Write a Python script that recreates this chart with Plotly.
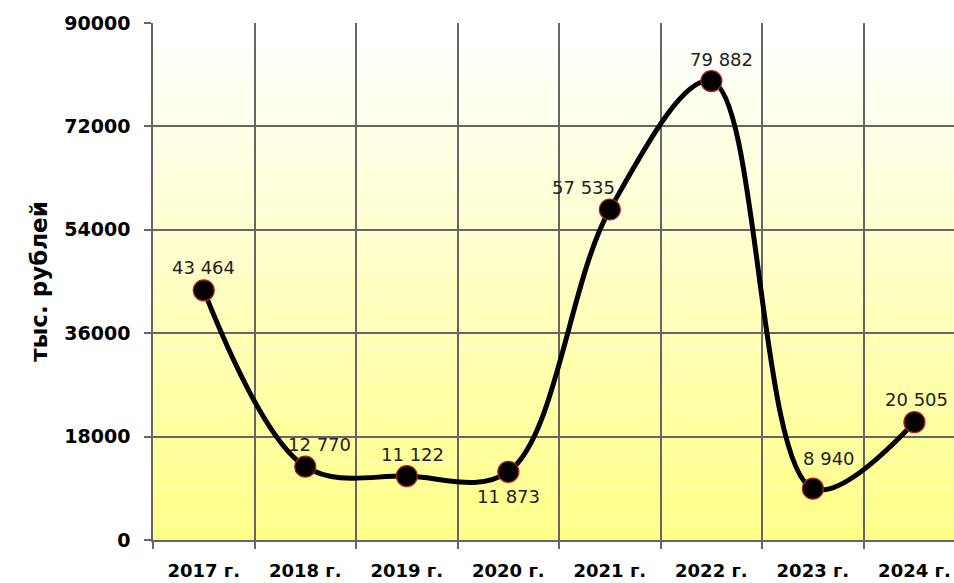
import plotly.graph_objects as go

years = ["2017 г.", "2018 г.", "2019 г.", "2020 г.", "2021 г.", "2022 г.", "2023 г.", "2024 г."]
values = [43464, 12770, 11122, 11873, 57535, 79882, 8940, 20505]
labels = ["43 464", "12 770", "11 122", "11 873", "57 535", "79 882", "8 940", "20 505"]
y_ticks = [0, 18000, 36000, 54000, 72000, 90000]

x_idx = list(range(len(years)))

fig = go.Figure()

# gradient background (white top -> yellow bottom)
n = 60
top = (255, 255, 255)
bot = (255, 255, 136)
for i in range(n):
    t = i / (n - 1)
    c = tuple(round(top[k] + (bot[k] - top[k]) * t) for k in range(3))
    fig.add_shape(type="rect", xref="paper", yref="paper",
                  x0=0, x1=1, y0=1 - (i + 1) / n, y1=1 - i / n,
                  fillcolor="rgb(%d,%d,%d)" % c, line_width=0, layer="below")

fig.add_trace(go.Scatter(
    x=x_idx, y=values, mode="lines+markers",
    line=dict(color="black", width=5, shape="spline", smoothing=1.0),
    marker=dict(size=21, color="black", line=dict(color="#b02020", width=1.2)),
    hoverinfo="skip", showlegend=False, cliponaxis=False,
))

shifts = [(0, 23), (14, 22), (6, 22), (0, -25), (-26, 22), (10, 22), (16, 30), (2, 23)]
for xi, v, lab, (dx, dy) in zip(x_idx, values, labels, shifts):
    fig.add_annotation(x=xi, y=v, text=lab, showarrow=False,
                       xshift=dx, yshift=dy,
                       font=dict(family="DejaVu Sans", size=18, color="#222"))

fig.update_layout(
    width=954, height=583,
    margin=dict(l=153, r=0, t=23, b=43),
    paper_bgcolor="white", plot_bgcolor="rgba(0,0,0,0)",
    font=dict(family="DejaVu Sans", color="black"),
)

fig.update_xaxes(
    range=[-0.5, 7.39],
    tickmode="array", tickvals=x_idx, ticktext=years,
    ticks="", showgrid=False,
    tickfont=dict(size=18, family="DejaVu Sans", weight="bold"),
    ticklabelstandoff=14,
    minor=dict(tickmode="array", tickvals=[i - 0.5 for i in range(9)],
               showgrid=True, gridcolor="#666666", gridwidth=1.6,
               ticks="outside", ticklen=7, tickcolor="#666666", tickwidth=1.6),
    showline=True, linecolor="#666666", linewidth=1.6,
    zeroline=False,
)

fig.update_yaxes(
    range=[0, 90000],
    tickmode="array", tickvals=y_ticks, ticktext=[str(t) for t in y_ticks],
    showgrid=True, gridcolor="#666666", gridwidth=1.6,
    ticks="outside", ticklen=7, tickcolor="#666666", tickwidth=1.6,
    tickfont=dict(size=19, family="DejaVu Sans", weight="bold"),
    ticklabelstandoff=10,
    showline=True, linecolor="#666666", linewidth=1.6,
    zeroline=False,
    title=dict(text="тыс. рублей", standoff=10,
               font=dict(size=23, family="DejaVu Sans", weight="bold")),
)

fig.write_html("out.html")
